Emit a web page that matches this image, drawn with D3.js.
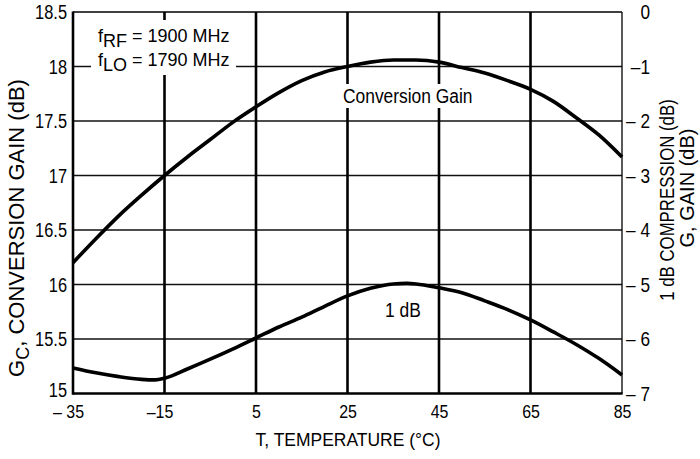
<!DOCTYPE html>
<html>
<head>
<meta charset="utf-8">
<script src="https://cdn.jsdelivr.net/npm/d3@7"></script>
<style>
	body { margin: 0; background: #fff; }
	text { font-family: "Liberation Sans", Arial, sans-serif; fill: #000; }
</style>
</head>
<body>
<svg id="chart" width="700" height="459"></svg>
<script>
// conversion gain (left axis, dB)
const gainTemps = [-35, -30, -25, -20, -15, -10, -5, 0, 5, 10, 15, 20, 25, 30, 35, 40, 45, 50, 55, 60, 65, 70, 75, 80, 85];
const gainValues = [16.2, 16.42, 16.63, 16.82, 17.0, 17.17, 17.33, 17.49, 17.63, 17.76, 17.87, 17.95, 18.0, 18.04, 18.06, 18.06, 18.04, 17.99, 17.94, 17.87, 17.79, 17.68, 17.53, 17.37, 17.17];

// 1 dB compression (right axis, dB)
const compTemps = [-35, -30, -25, -20, -17, -15, -10, -5, 0, 5, 10, 15, 20, 25, 30, 35, 38, 40, 45, 50, 55, 60, 65, 70, 75, 80, 85];
const compValues = [-6.53, -6.62, -6.69, -6.74, -6.75, -6.72, -6.55, -6.37, -6.18, -5.98, -5.78, -5.6, -5.4, -5.21, -5.07, -4.99, -4.98, -4.99, -5.06, -5.15, -5.3, -5.46, -5.65, -5.87, -6.1, -6.36, -6.66];

const xTicks = [-35, -15, 5, 25, 45, 65, 85];
const xTickLabels = ["\u2013 35", "\u201315", "5", "25", "45", "65", "85"];
const leftTicks = [15, 15.5, 16, 16.5, 17, 17.5, 18, 18.5];
const rightTicks = [0, -1, -2, -3, -4, -5, -6, -7];
const rightTickLabels = ["0", "\u20131", "\u2013 2", "\u2013 3", "\u2013 4", "\u2013 5", "\u2013 6", "\u2013 7"];

const plotLeft = 73, plotRight = 622, plotTop = 12, plotBottom = 393.5;

const x = d3.scaleLinear([-35, 85], [plotLeft, plotRight]);
const yLeft = d3.scaleLinear([15, 18.5], [plotBottom, plotTop]);
const yRight = d3.scaleLinear([-7, 0], [plotBottom, plotTop]);

const svg = d3.select("#chart");

// the original uses a condensed face, so squash text horizontally
function squeeze(sel, sx) {
	sel.each(function () {
		const t = d3.select(this);
		const x0 = +t.attr("x") || 0;
		const dx0 = +t.attr("dx") || 0;
		const prev = t.attr("transform") || "";
		t.attr("x", x0 / sx)
			.attr("dx", dx0 / sx)
			.attr("transform", `${prev} scale(${sx},1)`);
	});
}

// horizontal grid (thin)
svg.append("g")
	.selectAll("line")
	.data(leftTicks.slice(1, -1))
	.join("line")
	.attr("x1", plotLeft)
	.attr("x2", plotRight)
	.attr("y1", (d) => yLeft(d))
	.attr("y2", (d) => yLeft(d))
	.attr("stroke", "#111")
	.attr("stroke-width", 1.3);

// vertical grid (heavy)
svg.append("g")
	.selectAll("line")
	.data(xTicks.slice(1, -1))
	.join("line")
	.attr("x1", (d) => x(d))
	.attr("x2", (d) => x(d))
	.attr("y1", plotTop)
	.attr("y2", plotBottom)
	.attr("stroke", "#000")
	.attr("stroke-width", 2.6);

// white boxes behind labels
svg.append("rect").attr("x", 91).attr("y", 20).attr("width", 145).attr("height", 55).attr("fill", "#fff");
svg.append("rect").attr("x", 339).attr("y", 84).attr("width", 138).attr("height", 24).attr("fill", "#fff");

// frame: top and right thin, left and bottom heavy
svg.append("line").attr("x1", plotLeft).attr("x2", plotRight).attr("y1", plotTop).attr("y2", plotTop)
	.attr("stroke", "#000").attr("stroke-width", 1.3);
svg.append("line").attr("x1", plotRight).attr("x2", plotRight).attr("y1", plotTop).attr("y2", plotBottom)
	.attr("stroke", "#000").attr("stroke-width", 1.3);
svg.append("line").attr("x1", plotLeft).attr("x2", plotLeft).attr("y1", plotTop - 0.6).attr("y2", plotBottom + 1.3)
	.attr("stroke", "#000").attr("stroke-width", 2.6);
svg.append("line").attr("x1", plotLeft).attr("x2", plotRight + 0.6).attr("y1", plotBottom).attr("y2", plotBottom)
	.attr("stroke", "#000").attr("stroke-width", 2.6);

// curves
const gainLine = d3.line()
	.x((d, i) => x(gainTemps[i]))
	.y((d) => yLeft(d))
	.curve(d3.curveMonotoneX);
const compLine = d3.line()
	.x((d, i) => x(compTemps[i]))
	.y((d) => yRight(d))
	.curve(d3.curveMonotoneX);

svg.append("path")
	.attr("d", gainLine(gainValues))
	.attr("fill", "none")
	.attr("stroke", "#000")
	.attr("stroke-width", 3.6);
svg.append("path")
	.attr("d", compLine(compValues))
	.attr("fill", "none")
	.attr("stroke", "#000")
	.attr("stroke-width", 3.6);

// axes labels (no tick lines)
const leftAxis = svg.append("g")
	.attr("transform", `translate(${plotLeft},0)`)
	.call(d3.axisLeft(yLeft).tickValues(leftTicks).tickSize(0).tickPadding(6)
		.tickFormat((d) => String(d)));
leftAxis.select(".domain").remove();
leftAxis.attr("font-family", null);
leftAxis.selectAll("text")
	.style("font-size", "21px")
	.attr("y", (d) => (d === 15 ? -4 : 0));
squeeze(leftAxis.selectAll("text"), 0.78);

const rightAxis = svg.append("g")
	.attr("transform", `translate(${plotRight},0)`)
	.call(d3.axisRight(yRight).tickValues(rightTicks).tickSize(0)
		.tickFormat((d, i) => rightTickLabels[i]));
rightAxis.select(".domain").remove();
rightAxis.attr("font-family", null);
rightAxis.selectAll("text")
	.attr("text-anchor", "end")
	.attr("x", 28)
	.style("font-size", "21px");
squeeze(rightAxis.selectAll("text"), 0.82);

const bottomAxis = svg.append("g")
	.attr("transform", `translate(0,${plotBottom})`)
	.call(d3.axisBottom(x).tickValues(xTicks).tickSize(0)
		.tickFormat((d, i) => xTickLabels[i]));
bottomAxis.select(".domain").remove();
bottomAxis.attr("font-family", null);
bottomAxis.selectAll("text")
	.attr("y", 25)
	.attr("dy", null)
	.attr("dx", (d) => (d < 0 ? -5 : 0))
	.style("font-size", "19px");
squeeze(bottomAxis.selectAll("text"), 0.84);

// axis titles
const xTitle = svg.append("text")
	.attr("x", 348)
	.attr("y", 446)
	.attr("text-anchor", "middle")
	.style("font-size", "19px")
	.text("T, TEMPERATURE (\u00B0C)");
squeeze(xTitle, 0.92);

const leftTitle = svg.append("text")
	.attr("transform", "translate(24,228) rotate(-90)")
	.attr("text-anchor", "middle")
	.style("font-size", "22px");
leftTitle.append("tspan").text("G");
leftTitle.append("tspan").attr("dy", 5).style("font-size", "18px").text("C");
leftTitle.append("tspan").attr("dy", -5).text(", CONVERSION GAIN (dB)");

const rightTitle = svg.append("text")
	.attr("transform", "translate(674,200) rotate(-90)")
	.attr("text-anchor", "middle")
	.style("font-size", "20px")
	.text("1 dB COMPRESSION (dB)");
squeeze(rightTitle, 0.84);
svg.append("text")
	.attr("transform", "translate(694,188) rotate(-90)")
	.attr("text-anchor", "middle")
	.style("font-size", "20px")
	.text("G, GAIN (dB)");

// annotation
const notes = [["RF", "1900"], ["LO", "1790"]];
notes.forEach(([sub, val], i) => {
	const t = svg.append("text")
		.attr("x", 98)
		.attr("y", 42 + i * 24)
		.style("font-size", "18px");
	t.append("tspan").text("f");
	t.append("tspan").attr("dy", 5).text(sub);
	t.append("tspan").attr("dy", -5).text(` = ${val} MHz`);
});

// curve labels
const gainLabel = svg.append("text")
	.attr("x", 343)
	.attr("y", 103)
	.style("font-size", "20px")
	.text("Conversion Gain");
squeeze(gainLabel, 0.87);
const compLabel = svg.append("text")
	.attr("x", 385)
	.attr("y", 317)
	.style("font-size", "20px")
	.text("1 dB");
squeeze(compLabel, 0.87);
</script>
</body>
</html>
